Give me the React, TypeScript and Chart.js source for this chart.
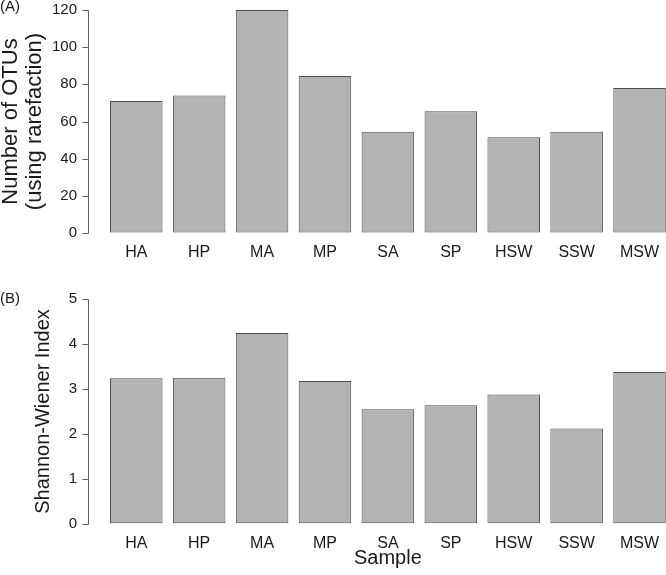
import React, { useEffect, useRef } from 'react';
import { Chart, registerables } from 'chart.js';

Chart.register(...registerables);

const samples = ['HA', 'HP', 'MA', 'MP', 'SA', 'SP', 'HSW', 'SSW', 'MSW'];
const otuCounts = [71, 74, 120, 84.5, 54.5, 65.5, 51.5, 54.5, 78];
const shannonIndex = [3.24, 3.25, 4.25, 3.18, 2.55, 2.64, 2.88, 2.12, 3.38];
const otuAxis = { min: 0, max: 120, step: 20 };
const shannonAxis = { min: 0, max: 5, step: 1 };

const FONT = '"Liberation Sans", Arial, Helvetica, sans-serif';
const TEXT = '#1a1a1a';
const AXIS = '#606060';

const rAxisPlugin = {
  id: 'rAxis',
  afterDraw(chart: any, _args: any, opts: any) {
    const { ctx, chartArea } = chart;
    const y = chart.scales.y;
    const x0 = Math.round(chartArea.left - opts.gap) + 0.5;
    ctx.save();
    ctx.strokeStyle = AXIS;
    ctx.lineWidth = 1;
    ctx.beginPath();
    const top = Math.round(y.getPixelForValue(y.max)) + 0.5;
    const bot = Math.round(y.getPixelForValue(y.min)) + 0.5;
    ctx.moveTo(x0, top);
    ctx.lineTo(x0, bot);
    y.ticks.forEach((t: any) => {
      const py = Math.round(y.getPixelForValue(t.value)) + 0.5;
      ctx.moveTo(x0 - 6, py);
      ctx.lineTo(x0, py);
    });
    ctx.stroke();
    ctx.font = `15px ${FONT}`;
    ctx.fillStyle = TEXT;
    ctx.textBaseline = 'middle';
    ctx.textAlign = 'left';
    ctx.fillText(opts.label, 0, opts.labelY);
    ctx.restore();
  },
};

type PanelProps = {
  values: number[];
  axis: { min: number; max: number; step: number };
  yTitle: string | string[];
  yTitleSize: number;
  yTitlePad: number;
  xTitle?: string;
  panelLabel: string;
  labelY: number;
  height: number;
  padTop: number;
  xHeight: number;
};

function Panel(p: PanelProps) {
  const ref = useRef<HTMLCanvasElement | null>(null);
  useEffect(() => {
    if (!ref.current) return;
    const chart = new Chart(ref.current, {
      type: 'bar',
      data: {
        labels: samples,
        datasets: [
          {
            data: p.values,
            backgroundColor: '#b3b3b3',
            borderColor: '#4d4d4d',
            borderWidth: 1,
            borderSkipped: false,
            barPercentage: 0.835,
            categoryPercentage: 1,
          },
        ],
      },
      plugins: [rAxisPlugin as any],
      options: {
        responsive: false,
        animation: false,
        events: [],
        layout: { padding: { top: p.padTop, right: 9, left: 0, bottom: 0 } },
        plugins: {
          legend: { display: false },
          tooltip: { enabled: false },
          rAxis: { gap: 16.8, label: p.panelLabel, labelY: p.labelY },
        } as any,
        scales: {
          x: {
            type: 'category',
            offset: true,
            grid: { display: true, drawOnChartArea: false, drawTicks: true, tickLength: 10, color: 'rgba(0,0,0,0)' },
            border: { display: false },
            ticks: { color: TEXT, font: { family: FONT, size: 16 }, padding: 0, maxRotation: 0, autoSkip: false },
            title: p.xTitle
              ? { display: true, text: p.xTitle, color: TEXT, font: { family: FONT, size: 20 }, padding: { top: 0, bottom: 4.7 } }
              : { display: false },
            afterFit: (s: any) => {
              s.height = p.xHeight;
            },
          },
          y: {
            min: p.axis.min,
            max: p.axis.max,
            grid: { display: true, drawOnChartArea: false, drawTicks: true, tickLength: 27.8, color: 'rgba(0,0,0,0)' },
            border: { display: false },
            ticks: { stepSize: p.axis.step, color: TEXT, font: { family: FONT, size: 15 }, padding: 0 },
            title: {
              display: true,
              text: p.yTitle,
              color: TEXT,
              font: { family: FONT, size: p.yTitleSize, lineHeight: 1.1 },
              padding: { top: p.yTitlePad, bottom: 0 },
            },
            afterFit: (s: any) => {
              s.width = 104.8;
            },
          },
        },
      },
    } as any);
    return () => chart.destroy();
  }, []);
  return <canvas ref={ref} width={680} height={p.height} style={{ display: 'block', width: 680, height: p.height }} />;
}

export default function App() {
  return (
    <div
      style={{
        position: 'fixed',
        left: 0,
        top: 0,
        width: 666,
        height: 575,
        overflow: 'hidden',
        background: '#fff',
      }}
    >
      <Panel
        values={otuCounts}
        axis={otuAxis}
        yTitle={['Number of OTUs', '(using rarefaction)']}
        yTitleSize={22}
        yTitlePad={-1.5}
        panelLabel="(A)"
        labelY={7}
        height={270}
        padTop={10}
        xHeight={37}
      />
      <Panel
        values={shannonIndex}
        axis={shannonAxis}
        yTitle="Shannon-Wiener Index"
        yTitleSize={20}
        yTitlePad={32}
        xTitle="Sample"
        panelLabel="(B)"
        labelY={29}
        height={305}
        padTop={29.3}
        xHeight={51.3}
      />
    </div>
  );
}
